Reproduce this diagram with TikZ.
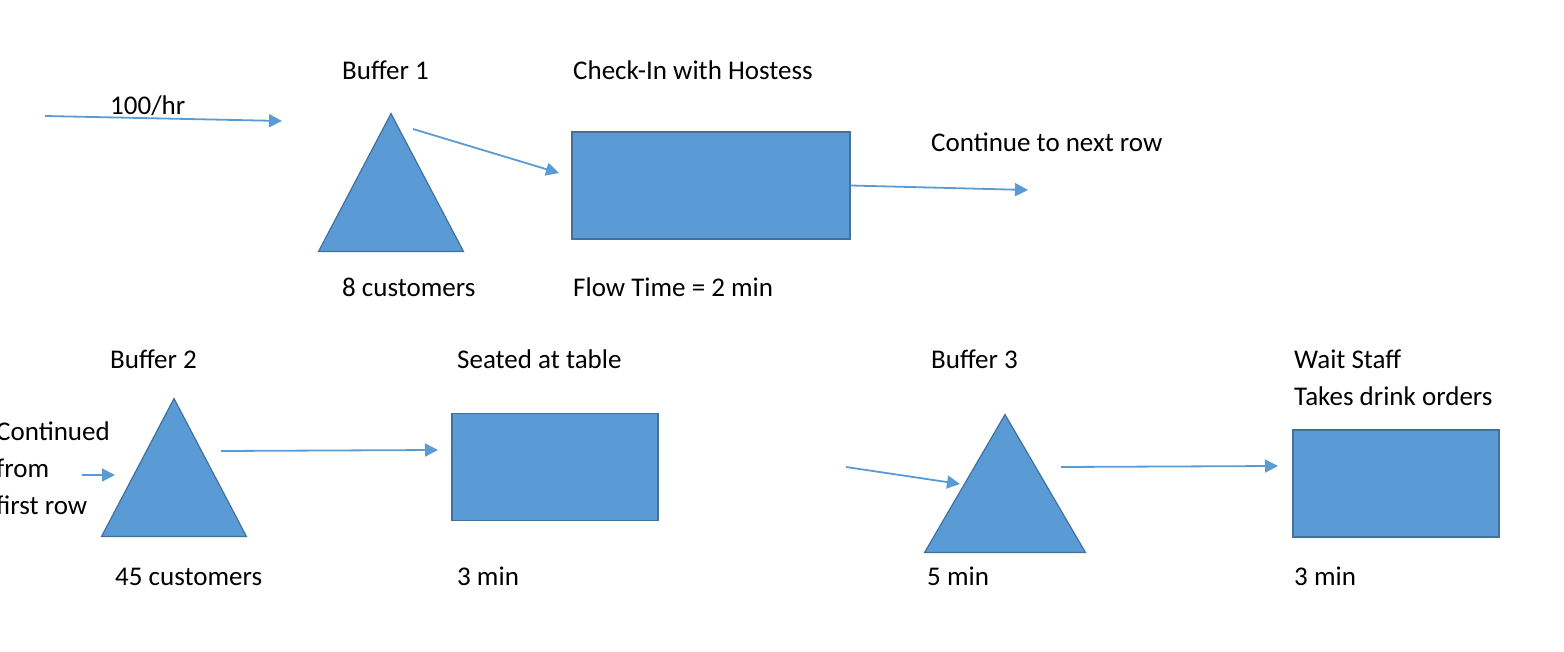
\documentclass[tikz,border=0pt]{standalone}
\usepackage{fontspec}
\setmainfont{Carlito}
\usetikzlibrary{arrows.meta,positioning,shapes.geometric}
\definecolor{boxblue}{HTML}{5B9BD5}
\definecolor{edgeblue}{HTML}{41719C}
\begin{document}
\begin{tikzpicture}[x=1pt,y=-1pt,font=\fontsize{27}{36.7}\selectfont]
\tikzset{
  proc/.style={draw=edgeblue,fill=boxblue,line width=1.2pt,minimum width=206pt,minimum height=107pt,inner sep=0pt},
  buf/.style={draw=edgeblue,fill=boxblue,line width=1.2pt,isosceles triangle,isosceles triangle stretches,shape border rotate=90,minimum width=145pt,minimum height=138pt,inner sep=0pt,anchor=apex},
  lbl/.style={anchor=base west,inner sep=0pt,align=left},
  arr/.style={-{Triangle[length=13pt,width=13pt]},line width=1.8pt,draw=boxblue}
}
\useasboundingbox (0,0) rectangle (1564,652);
\node(buf1)[buf] at (391,112){};
\node(check)[proc,minimum width=278pt] at (711,185.5){};
\node(buf2)[buf] at (174,397){};
\node(seat)[proc] at (555,467){};
\node(buf3)[buf,minimum width=161pt] at (1005,413){};
\node(wait)[proc] at (1396,483.5){};
\node(rate)[lbl] at (110,115){100/hr};
\node(b1name)[lbl] at (342,80){Buffer 1};
\node(b1cap)[lbl] at (342,297){8 customers};
\node(chname)[lbl] at (573,80){Check-In with Hostess};
\node(chtime)[lbl] at (573,297){Flow Time = 2 min};
\node(cont)[lbl] at (931,152){Continue to next row};
\node(b2name)[lbl] at (110,369){Buffer 2};
\node(b2cap)[lbl] at (115,585){45 customers};
\node(from)[lbl] at (-4,514){Continued\\from\\first row};
\node(stname)[lbl] at (457,369){Seated at table};
\node(sttime)[lbl] at (457,585){3 min};
\node(b3name)[lbl] at (931,369){Buffer 3};
\node(b3time)[lbl] at (927,585){5 min};
\node(wsname)[lbl] at (1294,405){Wait Staff\\Takes drink orders};
\node(wstime)[lbl] at (1294,585){3 min};
\coordinate(src) at (45,116); \coordinate(in1) at (282,121);
\coordinate(b1out) at (413,129); \coordinate(chin) at (559,173);
\coordinate(next) at (1028,190);
\coordinate(prev) at (82,475); \coordinate(b2in) at (115,475);
\coordinate(b2out) at (221,451); \coordinate(stin) at (438,450);
\coordinate(b3src) at (846,467); \coordinate(b3in) at (960,484);
\coordinate(b3out) at (1061,467); \coordinate(wsin) at (1278,466);
\draw[arr](src)--(in1); \draw[arr](b1out)--(chin); \draw[arr](check.east)--(next);
\draw[arr](prev)--(b2in); \draw[arr](b2out)--(stin);
\draw[arr](b3src)--(b3in); \draw[arr](b3out)--(wsin);
\end{tikzpicture}
\end{document}
